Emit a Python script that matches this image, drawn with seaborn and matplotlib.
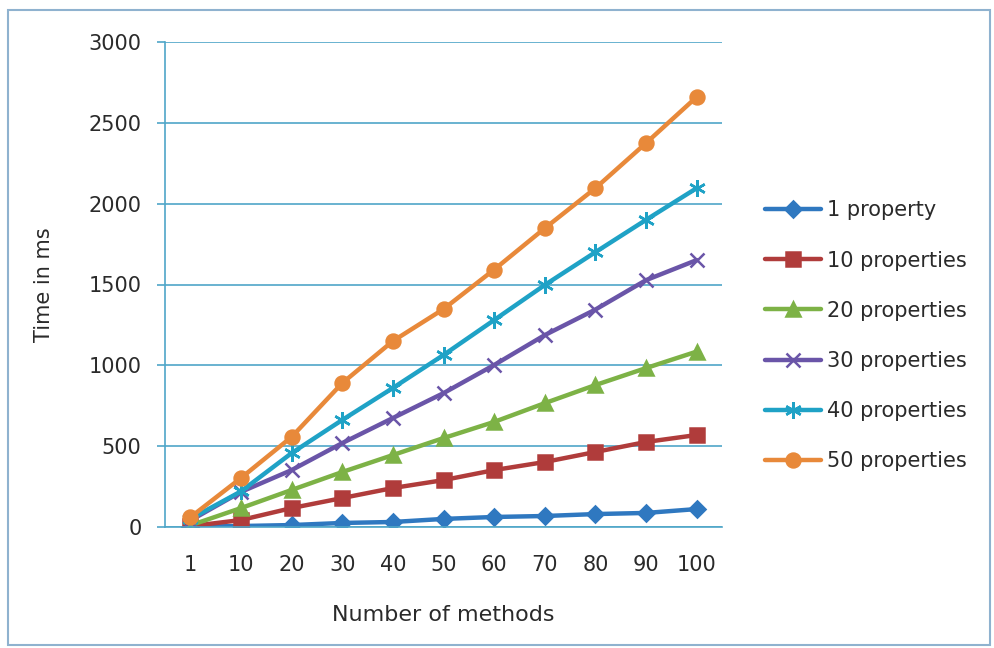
import matplotlib
matplotlib.use("Agg")
import matplotlib.pyplot as plt
import seaborn as sns
import pandas as pd
from matplotlib.patches import Rectangle

# Number of methods (category axis)
methods = ["1", "10", "20", "30", "40", "50", "60", "70", "80", "90", "100"]

# Time in ms for each number of properties
prop_1 = [2, 6, 12, 25, 31, 50, 62, 68, 80, 87, 111]
prop_10 = [5, 43, 117, 179, 241, 290, 352, 402, 464, 526, 569]
prop_20 = [10, 117, 229, 340, 445, 550, 650, 766, 878, 983, 1085]
prop_30 = [40, 217, 352, 519, 674, 828, 1002, 1187, 1345, 1527, 1651]
prop_40 = [50, 220, 457, 662, 860, 1064, 1280, 1497, 1700, 1900, 2096]
prop_50 = [60, 303, 557, 890, 1150, 1348, 1592, 1848, 2096, 2375, 2660]

series_names = ["1 property", "10 properties", "20 properties",
                "30 properties", "40 properties", "50 properties"]
series_values = [prop_1, prop_10, prop_20, prop_30, prop_40, prop_50]

colors = ["#2F78C0", "#B03C3B", "#7DB246", "#6A55A8", "#1FA2C6", "#E8893A"]
markers = ["D", "s", "^", "x", (6, 2, 0), "o"]
msizes = [8, 10, 10, 10, 12, 10]

df = pd.DataFrame({
    "methods": methods * len(series_names),
    "time": [v for vals in series_values for v in vals],
    "series": [n for n in series_names for _ in methods],
})

sns.set_theme(style="white")
plt.rcParams["font.family"] = ["DejaVu Sans"]

fig = plt.figure(figsize=(9.95, 6.48), dpi=100)
ax = fig.add_axes([165 / 995, 1 - 527 / 648, (722 - 165) / 995, (527 - 42) / 648])

grid_color = "#4FA6C8"
text_color = "#2a2a2a"

for name, color, mk, ms in zip(series_names, colors, markers, msizes):
    sub = df[df["series"] == name]
    sns.pointplot(data=sub, x="methods", y="time", order=methods,
                  color=color, marker=mk, markersize=ms, linewidth=3.2,
                  markeredgewidth=1.8, ax=ax, label=name, errorbar=None)

if ax.get_legend() is not None:
    ax.get_legend().remove()

ax.set_xlim(-0.5, len(methods) - 0.5)
ax.set_ylim(0, 3000)
ax.set_yticks(range(0, 3001, 500))
ax.set_yticklabels([str(v) for v in range(0, 3001, 500)])
ax.yaxis.grid(True, color=grid_color, linewidth=1.2)
ax.set_axisbelow(True)
for side in ["top", "right"]:
    ax.spines[side].set_visible(False)
ax.spines["left"].set_color(grid_color)
ax.spines["bottom"].set_color(grid_color)
ax.spines["left"].set_linewidth(1.2)
ax.spines["bottom"].set_linewidth(1.2)

ax.tick_params(axis="y", which="major", left=True, length=6, width=1.2,
               color=grid_color, labelsize=15, labelcolor=text_color, pad=11)
ax.tick_params(axis="x", which="major", bottom=False, labelsize=15,
               labelcolor=text_color, pad=14)

ax.set_xlabel("Number of methods", fontsize=16, color=text_color, labelpad=22)
ax.set_ylabel("Time in ms", fontsize=15, color=text_color, labelpad=25)

handles, labels = ax.get_legend_handles_labels()
leg = fig.legend(handles, labels, loc="upper left",
                 bbox_to_anchor=(757 / 995, 1 - 192 / 648), borderaxespad=0,
                 frameon=False, fontsize=15, handlelength=2.65,
                 labelspacing=1.45, handletextpad=0.33, labelcolor=text_color)

fig.patches.append(Rectangle((8 / 995, 3 / 648), 982 / 995, 635 / 648,
                             transform=fig.transFigure, fill=False,
                             edgecolor="#8FB2CF", linewidth=1.5))

fig.savefig("out.png", dpi=100, facecolor="white")
